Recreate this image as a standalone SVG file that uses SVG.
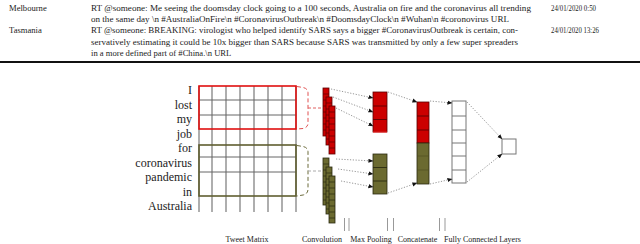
<svg xmlns="http://www.w3.org/2000/svg" width="640" height="244" viewBox="0 0 640 244">
<style>
.tt{font-family:"Liberation Serif","Times New Roman",serif;font-size:8.6px;fill:#222}
.w{font-family:"Liberation Serif","Times New Roman",serif;font-size:12px;fill:#222;text-anchor:end}
.lb{font-family:"Liberation Serif","Times New Roman",serif;font-size:8px;fill:#222;text-anchor:middle}
.vg{stroke:#9a9a9a;stroke-width:1.6}
.hg{stroke:#666;stroke-width:1}
.rc{fill:#cc0000;stroke:#5a0000;stroke-width:0.8}
.gc{fill:#6b6a30;stroke:#2a2a10;stroke-width:0.8}
.fc{fill:#fff;stroke:#777;stroke-width:1}
.ar{fill:none;stroke:#8a8a8a;stroke-width:0.9;stroke-dasharray:1.2,1.6;marker-end:url(#ah)}
.tk{stroke:#999;stroke-width:1}
</style>
<defs>
<marker id="ah" viewBox="0 0 6 6" refX="5.5" refY="3" markerWidth="5" markerHeight="5" markerUnits="userSpaceOnUse" orient="auto">
<path d="M0,0.5 L6,3 L0,5.5 Z" fill="#111"/>
</marker>
</defs>
<rect width="640" height="244" fill="#fff"/>
<g id="table">
<text class="tt" x="9" y="11">Melbourne</text>
<text class="tt" x="91" y="11" textLength="440" lengthAdjust="spacingAndGlyphs">RT @someone: Me seeing the doomsday clock going to a 100 seconds, Australia on fire and the coronavirus all trending</text>
<text class="tt" x="91" y="22" textLength="418" lengthAdjust="spacingAndGlyphs">on the same day \n #AustraliaOnFire\n #CoronavirusOutbreak\n #DoomsdayClock\n #Wuhan\n #coronovirus URL</text>
<text class="tt" x="551" y="11" textLength="45" lengthAdjust="spacingAndGlyphs">24/01/2020 0:50</text>
<text class="tt" x="9" y="33">Tasmania</text>
<text class="tt" x="91" y="33" textLength="427" lengthAdjust="spacingAndGlyphs">RT @someone: BREAKING: virologist who helped identify SARS says a bigger #CoronavirusOutbreak is certain, con-</text>
<text class="tt" x="91" y="44.5" textLength="427" lengthAdjust="spacingAndGlyphs">servatively estimating it could be 10x bigger than SARS because SARS was transmitted by only a few super spreaders</text>
<text class="tt" x="91" y="55.5">in a more defined part of #China.\n URL</text>
<text class="tt" x="551" y="33" textLength="48" lengthAdjust="spacingAndGlyphs">24/01/2020 13:26</text>
<line x1="0" y1="62" x2="640" y2="62" stroke="#111" stroke-width="2"/>
</g>
<g id="words">
<text class="w" x="192" y="94">I</text>
<text class="w" x="192" y="108.5">lost</text>
<text class="w" x="192" y="123">my</text>
<text class="w" x="192" y="137.5">job</text>
<text class="w" x="192" y="152">for</text>
<text class="w" x="192" y="166.5">coronavirus</text>
<text class="w" x="192" y="181">pandemic</text>
<text class="w" x="192" y="195.5">in</text>
<text class="w" x="192" y="210">Australia</text>
</g>
<g id="tweet-matrix">
<line class="vg" x1="199" y1="86" x2="199" y2="212"/>
<line class="vg" x1="212" y1="86" x2="212" y2="212"/>
<line class="vg" x1="226" y1="86" x2="226" y2="212"/>
<line class="vg" x1="240" y1="86" x2="240" y2="212"/>
<line class="vg" x1="254" y1="86" x2="254" y2="212"/>
<line class="vg" x1="268" y1="86" x2="268" y2="212"/>
<line class="vg" x1="282" y1="86" x2="282" y2="212"/>
<line class="vg" x1="296" y1="86" x2="296" y2="212"/>
<line class="hg" x1="199" y1="100" x2="296" y2="100"/>
<line class="hg" x1="199" y1="115" x2="296" y2="115"/>
<line class="hg" x1="199" y1="157" x2="296" y2="157"/>
<line class="hg" x1="199" y1="172" x2="296" y2="172"/>
<rect x="199" y="86" width="97" height="43" fill="none" stroke="#e01010" stroke-width="1.6"/>
<rect x="199" y="145" width="97" height="51" fill="none" stroke="#5f5e30" stroke-width="1.6"/>
</g>
<g id="filters">
<path d="M297,86.5 L303,87.5 Q308,88.5 308,93 L308,123 Q308,127.5 303,128.5 L297,129" fill="none" stroke="#e05050" stroke-width="1" stroke-dasharray="4,2.5"/>
<line x1="308" y1="108" x2="322" y2="108" stroke="#e06060" stroke-width="1" stroke-dasharray="3,2"/>
<path d="M297,145.5 L303,146.5 Q308,147.5 308,152 L308,189 Q308,194 303,195 L297,196" fill="none" stroke="#6b6a3a" stroke-width="1" stroke-dasharray="4,2.5"/>
<line x1="308" y1="171" x2="322" y2="171" stroke="#aaa" stroke-width="1" stroke-dasharray="3,2"/>
</g>
<g id="convolution">
<g id="conv-red">
<rect x="323" y="88" width="6" height="48" class="rc"/>
<path d="M323,94h6M323,100h6M323,106h6M323,112h6M323,118h6M323,124h6M323,130h6" stroke="#5a0000" stroke-width="0.7"/>
<rect x="326" y="97" width="6" height="48" class="rc"/>
<path d="M326,103h6M326,109h6M326,115h6M326,121h6M326,127h6M326,133h6M326,139h6" stroke="#5a0000" stroke-width="0.7"/>
<rect x="329" y="106" width="6" height="48" class="rc"/>
<path d="M329,112h6M329,118h6M329,124h6M329,130h6M329,136h6M329,142h6M329,148h6" stroke="#5a0000" stroke-width="0.7"/>
</g>
<g id="conv-green">
<rect x="323" y="158" width="6" height="47" class="gc"/>
<path d="M323,164h6M323,170h6M323,176h6M323,182h6M323,188h6M323,194h6M323,200h6" stroke="#2a2a10" stroke-width="0.7"/>
<rect x="326" y="167" width="6" height="47" class="gc"/>
<path d="M326,173h6M326,179h6M326,185h6M326,191h6M326,197h6M326,203h6M326,209h6" stroke="#2a2a10" stroke-width="0.7"/>
<rect x="329" y="176" width="6" height="47" class="gc"/>
<path d="M329,182h6M329,188h6M329,194h6M329,200h6M329,206h6M329,212h6M329,218h6" stroke="#2a2a10" stroke-width="0.7"/>
</g>
</g>
<g id="max-pooling">
<rect x="373" y="92" width="14" height="40" class="rc"/>
<path d="M373,106h14M373,119.5h14" stroke="#5a0000" stroke-width="0.9"/>
<line x1="373" y1="132" x2="387" y2="132" stroke="#ff2020" stroke-width="1"/>
<rect x="373" y="154" width="14" height="40" class="gc"/>
<path d="M373,167.5h14M373,181h14" stroke="#2a2a10" stroke-width="0.9"/>
</g>
<g id="concatenate">
<rect x="417" y="102" width="12" height="41" class="rc"/>
<path d="M417,116h12M417,130h12" stroke="#5a0000" stroke-width="0.9"/>
<rect x="417" y="143" width="12" height="41" class="gc"/>
<path d="M417,156h12M417,170h12" stroke="#4a4a20" stroke-width="0.6"/>
</g>
<g id="fully-connected">
<rect x="452" y="101" width="14" height="82" class="fc"/>
<path d="M452,116h14M452,130h14M452,143h14M452,156h14M452,170h14" stroke="#777" stroke-width="1"/>
<rect x="502" y="139" width="14" height="15" class="fc"/>
</g>
<g id="connectors">
<line class="ar" x1="331" y1="89" x2="373" y2="98"/>
<line class="ar" x1="333" y1="97" x2="373" y2="112"/>
<line class="ar" x1="336" y1="108" x2="373" y2="126"/>
<line class="ar" x1="336" y1="159" x2="373" y2="161"/>
<line class="ar" x1="338" y1="169" x2="373" y2="174"/>
<line class="ar" x1="341" y1="181" x2="373" y2="187"/>
<line class="ar" x1="388" y1="92" x2="417" y2="102"/>
<line class="ar" x1="388" y1="193" x2="417" y2="183"/>
<line class="ar" x1="430" y1="101" x2="452" y2="103"/>
<line class="ar" x1="430" y1="184" x2="452" y2="179"/>
<line class="ar" x1="467" y1="102" x2="502" y2="139"/>
<line class="ar" x1="467" y1="182" x2="502" y2="154"/>
</g>
<g id="ticks">
<line class="tk" x1="344.5" y1="218" x2="344.5" y2="231"/>
<line class="tk" x1="349" y1="218" x2="349" y2="231"/>
<line class="tk" x1="387.5" y1="218" x2="387.5" y2="231"/>
<line class="tk" x1="393.5" y1="218" x2="393.5" y2="231"/>
<line class="tk" x1="439.5" y1="218" x2="439.5" y2="231"/>
<line class="tk" x1="445" y1="218" x2="445" y2="231"/>
</g>
<g id="labels">
<text class="lb" x="247" y="242">Tweet Matrix</text>
<text class="lb" x="322" y="242">Convolution</text>
<text class="lb" x="371" y="242">Max Pooling</text>
<text class="lb" x="417.5" y="242">Concatenate</text>
<text class="lb" x="482.5" y="242">Fully Connected Layers</text>
</g>
</svg>
